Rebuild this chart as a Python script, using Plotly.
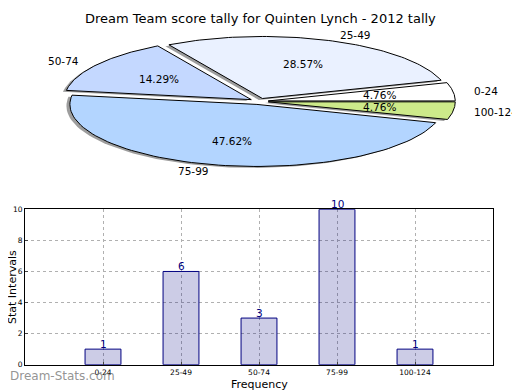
import numpy as np
import plotly.graph_objects as go

# ---- data ----
categories = ["0-24", "25-49", "50-74", "75-99", "100-124"]
counts = [1, 6, 3, 10, 1]
pie_colors = ["#ffffff", "#eaf1ff", "#c4d8ff", "#b3d5ff", "#cdea8a"]
title_text = "Dream Team score tally for Quinten Lynch - 2012 tally"
y_ticks = [0, 2, 4, 6, 8, 10]

W, H = 520, 390
OFF = 8  # page body margin compensation

# ---- pie geometry (pixel space of an invisible axis) ----
CX, CY, A, B = 259, 99.5, 187, 63.5
EXPLODE = 0.05
SHADOW = (-3.5, 1.5)
PIE_FONT = 10.5

fig = go.Figure()
total = sum(counts)
fracs = [c / total for c in counts]
start = 0.0
wedges = []
for cat, f, col in zip(categories, fracs, pie_colors):
    t1 = start
    t2 = start + 360 * f
    start = t2
    mid = np.radians((t1 + t2) / 2)
    ex = EXPLODE * A * np.cos(mid)
    ey = -EXPLODE * B * np.sin(mid)
    ts = np.radians(np.linspace(t1, t2, 80))
    xs = np.concatenate([[CX + ex], CX + ex + A * np.cos(ts), [CX + ex]])
    ys = np.concatenate([[CY + ey], CY + ey - B * np.sin(ts), [CY + ey]])
    wedges.append((cat, f, col, xs, ys, mid, ex, ey))

for cat, f, col, xs, ys, mid, ex, ey in wedges:
    fig.add_trace(go.Scatter(x=xs + SHADOW[0], y=ys + SHADOW[1], mode="lines",
                             fill="toself", fillcolor="rgba(60,60,60,0.5)",
                             line=dict(width=0), xaxis="x2", yaxis="y2",
                             hoverinfo="skip", showlegend=False))
for cat, f, col, xs, ys, mid, ex, ey in wedges:
    fig.add_trace(go.Scatter(x=xs, y=ys, mode="lines", fill="toself",
                             fillcolor=col, line=dict(color="black", width=1),
                             xaxis="x2", yaxis="y2", name=cat,
                             hoverinfo="skip", showlegend=False))
    fig.add_annotation(x=CX + ex + 0.6 * A * np.cos(mid),
                       y=CY + ey - 0.6 * B * np.sin(mid),
                       xref="x2", yref="y2", text=f"{f*100:.2f}%",
                       showarrow=False, font=dict(size=PIE_FONT, color="black"))
    lx = CX + ex + 1.1 * A * np.cos(mid)
    ly = CY + ey - 1.1 * B * np.sin(mid)
    fig.add_annotation(x=lx, y=ly, xref="x2", yref="y2", text=cat,
                       showarrow=False,
                       xanchor="left" if np.cos(mid) > 0 else "right",
                       font=dict(size=PIE_FONT, color="black"))

# ---- bar chart ----
xpos = list(range(len(categories)))
fig.add_trace(go.Bar(x=xpos, y=counts, width=0.46,
                     marker=dict(color="rgba(0,0,128,0.2)",
                                 line=dict(color="#000080", width=1)),
                     showlegend=False, hoverinfo="skip"))
for xp, c in zip(xpos, counts):
    fig.add_annotation(x=xp, y=c, xref="x", yref="y", text=str(c),
                       showarrow=False, yanchor="middle", yshift=5,
                       font=dict(size=10.5, color="#000080"))

fig.update_layout(
    width=W, height=H,
    margin=dict(l=0, r=0, t=0, b=0),
    paper_bgcolor="white", plot_bgcolor="rgba(0,0,0,0)",
    font=dict(family="DejaVu Sans", color="black"),
    xaxis=dict(domain=[(25-OFF)/W, (493-OFF)/W], range=[-1, 5], tickvals=xpos,
               ticktext=categories, tickfont=dict(size=7.5),
               showgrid=True, gridcolor="#b0b0b0", griddash="dot", gridwidth=1,
               showline=True, linecolor="black", mirror=True, linewidth=1,
               ticks="inside", ticklen=3, zeroline=False),
    yaxis=dict(domain=[1-(369-OFF)/H, 1-(210-OFF)/H], range=[0, 10], tickvals=y_ticks,
               tickfont=dict(size=7.5),
               showgrid=True, gridcolor="#b0b0b0", griddash="dot", gridwidth=1,
               showline=True, linecolor="black", mirror=True, linewidth=1,
               ticks="inside", ticklen=3, zeroline=False),
    xaxis2=dict(domain=[0, 1], range=[OFF, W+OFF], visible=False, anchor="y2"),
    yaxis2=dict(domain=[0, 1], range=[H+OFF, OFF], visible=False, anchor="x2"),
)

fig.add_annotation(x=260, y=15, xref="x2", yref="y2", text=title_text,
                   showarrow=False, xanchor="center", yanchor="middle",
                   font=dict(size=13))
fig.add_annotation(x=12.5, y=290, xref="x2", yref="y2", text="Stat Intervals",
                   showarrow=False, textangle=-90, xanchor="center", yanchor="middle",
                   font=dict(size=11))
fig.add_annotation(x=259, y=389, xref="x2", yref="y2", text="Frequency",
                   showarrow=False, xanchor="center", yanchor="middle",
                   font=dict(size=11))
fig.add_annotation(x=OFF, y=381, xref="x2", yref="y2", text="Dream-Stats.com",
                   showarrow=False, xanchor="left", yanchor="middle",
                   font=dict(size=12, color="rgba(120,120,120,0.8)"))

fig.write_html("out.html")
